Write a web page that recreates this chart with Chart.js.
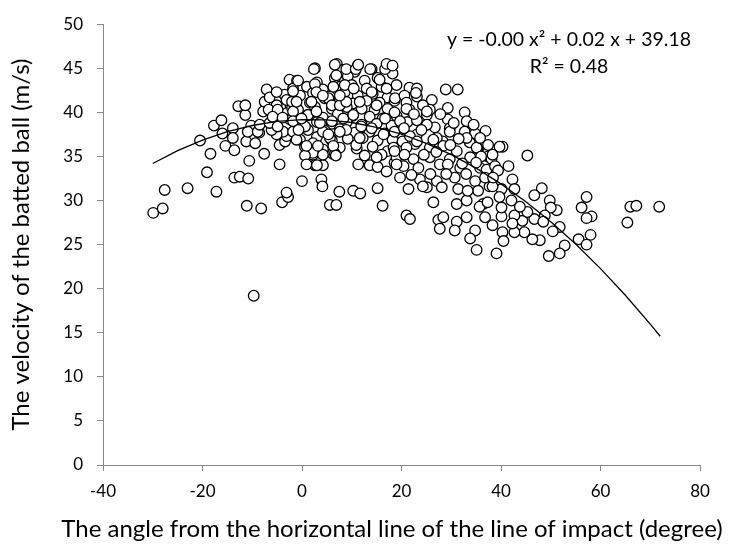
<!DOCTYPE html>
<html>
<head>
<meta charset="utf-8">
<script src="https://cdn.jsdelivr.net/npm/chart.js@4.4.1/dist/chart.umd.min.js"></script>
<style>
  body { margin: 0; background: #fff; }
  canvas { display: block; }
</style>
</head>
<body>
<canvas id="grafico" width="734" height="548"></canvas>
<script>
// angle of the line of impact (degree) and batted ball velocity (m/s)
const angle = [
  -29.9, -28.0, -27.6, -23.0, -20.5, -19.1, -18.4, -17.2, -17.7, -16.2, -16.0, -15.4, -13.9, -13.6, -13.6, -12.5,
  -13.9, -12.8, -11.4, -11.2, -10.8, -10.6, -11.1, -8.2, -10.2, -9.4, -8.6, -7.6, -7.1, -6.6, -6.6, -7.8,
  -5.8, -5.1, -4.5, -4.0, -2.8, -3.1, -4.5, -3.4, -3.1, -5.1, -3.5, -2.5, -2.3, -3.1, -3.8, -5.1,
  -6.1, -11.4, -10.9, -8.9, -7.5, -6.5, -5.1, -6.7, -4.9, -3.1, -8.5, -6.5, -4.9, -2.4, -2.0, -5.9,
  -3.9, -9.7,
  // core
  2.6, 7.0, 8.2, 11.2, 14.0, 17.0, 10.6,
  -1.0, 3.0, 6.6, 9.2, 12.6, 15.2, 18.2,
  -1.8, 1.0, 4.2, 7.6, 10.0, 13.0, 16.0, 19.0,
  -0.4, 2.2, 5.6, 8.6, 11.2, 14.2, 17.2,
  -2.0, 1.6, 4.6, 7.6, 10.2, 13.0, 15.6, 18.6,
  -0.8, 2.6, 6.0, 9.0, 12.0, 14.6, 17.2,
  -1.8, 1.2, 4.2, 7.2, 10.2, 13.6, 16.2, 19.0,
  -0.4, 3.0, 6.0, 9.0, 12.0, 15.0, 18.0,
  -1.8, 1.2, 4.6, 7.6, 10.6, 13.6, 16.6,
  -0.4, 3.0, 6.0, 9.2, 12.2, 15.2, 18.2,
  0.6, 4.2, 7.6, 11.0, 14.2, 17.2,
  2.2, 6.2, 12.6, 16.0,
  2.4, 2.6, 1.9, 1.2, 2.2, 2.2, 2.6, 4.2, 3.9, 4.1, 5.6, 6.9, 7.5, 6.6, 4.2, 3.6,
  6.6, 6.9, 6.3, 5.3, 6.0, 7.6, 6.0, 5.6, 6.3, 8.9, 8.6, 8.9, 8.3, 8.9, 10.3, 11.7,
  11.3, 10.9, 10.4, 11.6, 10.8, 11.3, 10.3, 11.9, 11.6, -1.8, 2.9, 0.6, -1.8, 2.9, 4.2, -1.1,
  4.2, 5.3, 7.6, 7.6, 3.2, -0.8, -1.8, -1.1, -0.1, -0.7, 0.0, 0.6, 0.9, 0.9,
  15.2, 16.2, 3.0, 6.8, 13.6, 15.2, 17.0, 18.6,
  15.0, 19.0, 18.4, 16.4, 14.0, 16.7, 15.0, 17.0, 14.0, 15.6, 13.7, 16.7, 17.0, 18.7,
  // 20 to 38 degrees
  28.9, 31.3, 26.1, 29.3, 32.7, 33.1, 29.3, 36.9, 34.3, 32.7, 29.7, 26.7, 37.3, 35.3, 33.7, 31.1,
  28.3, 25.7, 23.1, 25.1, 25.7, 21.6, 23.1, 20.6, 23.1, 18.2, 21.0, 21.6, 24.3, 21.2, 25.1, 22.7,
  20.2, 18.6, 18.6, 18.6, 27.1,
  23.1, 19.7, 21.7, 26.4, 23.1, 21.0, 28.4, 35.1, 22.9, 21.0, 25.1, 34.8, 29.7, 33.1, 35.8, 37.4,
  22.4, 25.7, 29.7, 33.8, 37.4, 20.4, 23.4, 27.7, 31.8, 35.8, 19.7, 23.7, 27.1, 30.7, 34.8, 21.4,
  25.1, 28.1, 31.4, 35.4, 26.4, 31.1, 33.1, 36.4, 21.0, 21.7, 27.4, 28.4, 27.7, 31.1, 33.1, 36.8,
  34.8, 33.8, 35.1, 30.7,
  38.3, 35.7, 33.3, 37.3, 24.3, 37.7, 19.0, 29.3, 37.1, 38.1,
  20.5, 22.5, 24.0, 27.8, 30.5, 31.5, 34.5, 36.0, 24.5, 27.0, 29.8, 32.2, 35.0, 36.8, 33.0, 29.0,
  25.8, 22.0, 20.6, 38.8,
  // above 38 degrees
  40.3, 39.7, 45.3, 41.5, 38.3, 57.2, 56.2, 58.2, 57.2, 58.0, 55.6, 57.2, 52.8, 51.8, 49.6, 39.1,
  65.4, 66.0, 67.2, 71.8, 48.2, 46.7, 49.8, 51.2, 50.0, 48.8, 46.7, 44.3, 45.3, 42.7, 40.1, 51.8,
  50.4, 47.8, 46.3, 44.7, 42.7, 40.3, 40.5, 42.3, 42.3, 42.7, 40.1, 42.1, 39.7, 40.1, 38.3,
  39.4, 38.4, 43.8, 48.5
];
const velocity = [
  28.6, 29.1, 31.2, 31.4, 36.8, 33.2, 35.3, 31.0, 38.5, 39.1, 37.6, 36.2, 38.2, 35.7, 32.6, 32.7,
  37.1, 40.7, 39.7, 36.7, 32.5, 34.5, 29.4, 29.1, 38.5, 36.5, 37.7, 35.3, 42.6, 41.2, 40.2, 40.1,
  39.3, 38.5, 34.1, 29.8, 30.4, 30.9, 36.3, 36.7, 37.3, 40.8, 42.0, 43.7, 40.8, 39.9, 37.8, 37.5,
  38.0, 40.8, 37.8, 37.8, 41.2, 41.7, 42.3, 40.3, 40.3, 41.4, 38.6, 38.8, 38.4, 39.2, 40.5, 39.5,
  39.4, 19.2,
  // core
  45.0, 45.5, 44.8, 45.3, 44.9, 45.1, 44.6,
  43.6, 43.4, 43.9, 44.1, 43.6, 43.9, 44.4,
  42.7, 42.9, 42.6, 42.9, 43.1, 42.7, 42.9, 43.1,
  41.9, 42.2, 41.8, 42.3, 41.9, 42.1, 41.7,
  41.2, 41.1, 41.6, 41.3, 41.0, 41.3, 41.1, 41.3,
  40.3, 40.6, 40.4, 40.6, 40.4, 40.3, 40.4,
  39.5, 39.7, 39.4, 39.8, 39.6, 39.5, 39.3, 39.6,
  38.8, 38.9, 38.7, 38.9, 38.6, 38.7, 38.5,
  37.8, 38.0, 37.9, 38.1, 37.7, 37.8, 37.6,
  36.9, 37.2, 36.8, 37.0, 37.1, 36.8, 36.9,
  36.1, 35.8, 36.0, 35.9, 36.1, 35.6,
  35.2, 35.3, 35.1, 35.2,
  44.9, 43.2, 41.2, 39.7, 36.5, 35.4, 34.0, 34.0, 32.4, 31.6, 29.5, 29.5, 31.0, 35.3, 37.8, 38.8,
  45.4, 44.2, 42.9, 41.6, 40.8, 40.8, 39.0, 37.1, 36.2, 44.9, 43.1, 41.2, 39.3, 38.0, 31.1, 30.8,
  34.1, 36.3, 42.7, 41.2, 44.9, 45.4, 39.7, 38.4, 37.1, 40.1, 40.1, 38.4, 39.0, 42.3, 41.9, 36.9,
  35.2, 37.5, 37.8, 41.9, 36.2, 43.6, 42.4, 41.2, 39.3, 38.0, 32.2, 35.1, 34.1, 36.2,
  31.4, 29.4, 34.0, 35.1, 34.0, 33.8, 33.3, 34.3,
  34.9, 34.9, 36.0, 37.5, 38.2, 39.3, 40.8, 42.7, 42.3, 43.7, 44.9, 44.9, 45.5, 41.6,
  // 20 to 38 degrees
  42.6, 42.6, 41.4, 40.5, 40.0, 39.0, 39.2, 37.9, 37.6, 37.8, 38.2, 38.3, 35.4, 35.9, 36.6, 35.6,
  36.7, 36.0, 37.5, 39.7, 40.3, 42.8, 42.7, 41.9, 41.8, 45.3, 41.1, 40.3, 40.8, 38.9, 38.6, 36.4,
  36.7, 40.0, 37.8, 35.6, 37.1,
  39.1, 39.0, 37.3, 36.9, 36.7, 36.0, 36.2, 36.0, 42.2, 40.4, 40.1, 37.6, 37.8, 37.1, 37.1, 36.3,
  34.7, 34.9, 34.7, 34.9, 35.0, 33.9, 33.7, 34.1, 33.7, 33.7, 32.6, 32.4, 32.2, 32.6, 32.2, 31.3,
  31.5, 31.5, 31.3, 31.1, 29.8, 29.6, 30.0, 29.6, 28.3, 27.9, 27.8, 28.1, 26.8, 27.6, 28.1, 28.1,
  26.6, 25.7, 24.4, 26.6,
  27.2, 29.3, 31.1, 29.8, 31.6, 31.6, 34.1, 34.1, 33.5, 34.7,
  38.2, 39.8, 38.0, 39.8, 38.8, 37.0, 38.6, 35.0, 35.2, 35.5, 36.3, 34.2, 34.3, 32.6, 33.0, 33.0,
  33.0, 32.9, 35.2, 33.9,
  // above 38 degrees
  36.1, 36.1, 35.1, 33.9, 35.2, 30.4, 29.2, 28.2, 28.0, 26.1, 25.6, 25.0, 24.9, 24.0, 23.7, 24.0,
  27.5, 29.3, 29.4, 29.3, 31.4, 30.6, 30.0, 28.9, 29.2, 28.3, 27.9, 27.7, 28.7, 28.3, 28.2, 27.0,
  26.5, 25.5, 25.6, 26.4, 26.4, 26.4, 25.4, 27.4, 32.4, 31.3, 31.3, 30.0, 30.4, 29.2, 31.6,
  33.4, 32.6, 29.3, 27.6
];

// polynomial trendline as drawn in the picture
const trendAngle = [-30, -25, -20, -15, -10, -5, 0, 5, 10, 15, 20, 25, 30, 35, 40, 45, 50, 55, 60, 65, 70, 72];
const trendVelocity = [34.20, 35.65, 36.85, 37.81, 38.51, 38.97, 39.18, 39.14, 38.85, 38.31, 37.53, 36.49,
  35.21, 33.68, 31.89, 29.86, 27.59, 25.06, 22.28, 19.26, 15.98, 14.60];

const xTicks = [-40, -20, 0, 20, 40, 60, 80];
const yTicks = [0, 5, 10, 15, 20, 25, 30, 35, 40, 45, 50];

const equationLines = ['y = -0.00 x\u00B2 + 0.02 x + 39.18', 'R\u00B2 = 0.48'];
const xTitle = 'The angle from the horizontal line of the line of impact (degree)';

const FONT = 'Lato, "Open Sans", sans-serif';
const AXIS_GREY = '#868686';

const puntos = angle.map((a, i) => ({ x: a, y: velocity[i] }));
const tendencia = trendAngle.map((a, i) => ({ x: a, y: trendVelocity[i] }));

// ecuacion arriba a la derecha y titulo del eje x (Chart.js comprime el titulo al ancho del eje)
const textPlugin = {
  id: 'textos',
  afterDraw(chart) {
    const ctx = chart.ctx;
    ctx.save();
    ctx.fillStyle = '#000';
    ctx.textAlign = 'center';
    ctx.textBaseline = 'middle';
    ctx.font = '19.5px ' + FONT;
    ctx.fillText(equationLines[0], 569, 40);
    ctx.fillText(equationLines[1], 569, 67);
    ctx.font = '24px ' + FONT;
    ctx.fillText(xTitle, 392, 529);
    ctx.restore();
  }
};

const ctx = document.getElementById('grafico').getContext('2d');
const myChart = new Chart(ctx, {
  type: 'scatter',
  data: {
    datasets: [
      {
        type: 'line',
        label: 'Trend',
        data: tendencia,
        borderColor: '#000',
        borderWidth: 1.3,
        pointRadius: 0,
        fill: false,
        tension: 0,
        order: 0
      },
      {
        label: 'Velocity',
        data: puntos,
        pointRadius: 5.3,
        pointBorderWidth: 1.3,
        pointBackgroundColor: '#fff',
        pointBorderColor: '#000',
        order: 1
      }
    ]
  },
  options: {
    responsive: false,
    animation: false,
    devicePixelRatio: 1,
    layout: { padding: { top: 18, right: 34, left: 0, bottom: 0 } },
    plugins: {
      legend: { display: false },
      tooltip: { enabled: false }
    },
    scales: {
      x: {
        type: 'linear',
        min: xTicks[0],
        max: xTicks[xTicks.length - 1],
        afterBuildTicks: (scale) => { scale.ticks = xTicks.map(v => ({ value: v })); },
        afterFit: (scale) => { scale.height = 83; },
        grid: { drawOnChartArea: false, drawTicks: true, tickLength: 6, color: AXIS_GREY },
        border: { color: AXIS_GREY },
        ticks: { color: '#000', padding: 10, font: { family: FONT, size: 17 } },
        title: { display: false }
      },
      y: {
        type: 'linear',
        min: yTicks[0],
        max: yTicks[yTicks.length - 1],
        afterBuildTicks: (scale) => { scale.ticks = yTicks.map(v => ({ value: v })); },
        afterFit: (scale) => { scale.width = 103; },
        grid: { drawOnChartArea: false, drawTicks: true, tickLength: 6, color: AXIS_GREY },
        border: { color: AXIS_GREY },
        ticks: { color: '#000', padding: 14, font: { family: FONT, size: 17 } },
        title: {
          display: true,
          text: 'The velocity of the batted ball (m/s)',
          color: '#000',
          font: { family: FONT, size: 24 },
          padding: { top: 7, bottom: 0 }
        }
      }
    }
  },
  plugins: [textPlugin]
});
</script>
</body>
</html>
